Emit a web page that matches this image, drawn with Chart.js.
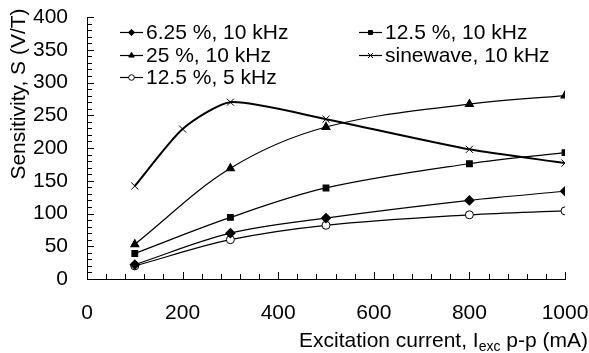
<!DOCTYPE html>
<html>
<head>
<meta charset="utf-8">
<script src="https://cdn.jsdelivr.net/npm/chart.js@4/dist/chart.umd.min.js"></script>
<style>
html,body{margin:0;padding:0;background:#fff;}
#wrap{width:589px;height:353px;}
</style>
</head>
<body>
<div id="wrap"><canvas id="c" width="589" height="353"></canvas></div>
<script>
const currents = [100, 300, 500, 800, 1000];
const sineCurrents = [100, 200, 300, 500, 800, 1000];
const s625_10k = [22, 70, 93, 120, 134];
const s125_10k = [39, 94, 139, 176, 193];
const s25_10k = [53, 169, 232, 267, 280];
const sine_10k = [142, 229, 270, 244, 198, 177];
const s125_5k = [20, 60, 82, 98, 104];
const seriesLabels = ['6.25 %, 10 kHz', '12.5 %, 10 kHz', '25 %, 10 kHz', 'sinewave, 10 kHz', '12.5 %, 5 kHz'];
const xTicks = [0, 200, 400, 600, 800, 1000];
const yTicks = [0, 50, 100, 150, 200, 250, 300, 350, 400];
const xTitleParts = ['Excitation current, I', 'exc', ' p-p (mA)'];
const yTitle = 'Sensitivity, S (V/T)';

const FONT = '"Liberation Sans", Arial, sans-serif';
const FS = 21;

function pts(xs, ys){ return xs.map((x,i)=>({x:x, y:ys[i]})); }

const datasets = [
  {label: seriesLabels[0], data: pts(currents, s625_10k), pointStyle:'rectRot', pointRadius:4.5, backgroundColor:'#000', borderColor:'#000', borderWidth:1.2, tension:0.35},
  {label: seriesLabels[1], data: pts(currents, s125_10k), pointStyle:'rect', pointRadius:4, backgroundColor:'#000', borderColor:'#000', borderWidth:1.2, tension:0.35},
  {label: seriesLabels[2], data: pts(currents, s25_10k), pointStyle:'triangle', pointRadius:4.5, backgroundColor:'#000', borderColor:'#000', borderWidth:1.2, tension:0.35},
  {label: seriesLabels[3], data: pts(sineCurrents, sine_10k), pointStyle:'crossRot', pointRadius:5, backgroundColor:'#000', borderColor:'#000', borderWidth:2, pointBorderWidth:1, tension:0.22},
  {label: seriesLabels[4], data: pts(currents, s125_5k), pointStyle:'circle', pointRadius:4, backgroundColor:'#fff', borderColor:'#000', borderWidth:1.2, pointBorderWidth:1, tension:0.35}
];

const decor = {
  id:'decor',
  afterDraw(chart){
    const ctx = chart.ctx;
    const xs = chart.scales.x, ys = chart.scales.y;
    const area = chart.chartArea;
    ctx.save();
    ctx.strokeStyle = '#000';
    ctx.lineWidth = 1;
    for (let v = 0; v <= 1000; v += 40){
      const px = Math.round(xs.getPixelForValue(v)) + 0.5;
      const len = (v % 200 === 0) ? 7 : 5;
      ctx.beginPath(); ctx.moveTo(px, area.bottom); ctx.lineTo(px, area.bottom - len); ctx.stroke();
    }
    for (let v = 0; v <= 400; v += 10){
      const py = Math.round(ys.getPixelForValue(v)) + 0.5;
      const len = (v % 50 === 0) ? 7 : 5;
      ctx.beginPath(); ctx.moveTo(area.left, py); ctx.lineTo(area.left + len, py); ctx.stroke();
    }
    // y title
    ctx.fillStyle = '#000';
    ctx.font = FS + 'px ' + FONT;
    ctx.save();
    ctx.translate(19, 94);
    ctx.rotate(-Math.PI/2);
    ctx.textAlign = 'center'; ctx.textBaseline = 'middle';
    ctx.fillText(yTitle, 0, 0);
    ctx.restore();
    // x title with subscript
    ctx.textBaseline = 'alphabetic';
    ctx.textAlign = 'left';
    const subFont = '14px ' + FONT;
    ctx.font = FS + 'px ' + FONT;
    const w1 = ctx.measureText(xTitleParts[0]).width;
    const w3 = ctx.measureText(xTitleParts[2]).width;
    ctx.font = subFont;
    const w2 = ctx.measureText(xTitleParts[1]).width;
    const total = w1 + w2 + w3;
    let x0 = 588 - total;
    const base = 347;
    ctx.font = FS + 'px ' + FONT;
    ctx.fillText(xTitleParts[0], x0, base);
    ctx.font = subFont;
    ctx.fillText(xTitleParts[1], x0 + w1, base + 4);
    ctx.font = FS + 'px ' + FONT;
    ctx.fillText(xTitleParts[2], x0 + w1 + w2, base);
    // legend
    const cols = [120, 359];
    const rows = [32, 55, 77];
    const order = [[0,0,0],[1,1,0],[2,0,1],[3,1,1],[4,0,2]];
    order.forEach(([di, c, r]) => {
      const ds = chart.data.datasets[di];
      const lx = cols[c], ly = rows[r];
      ctx.strokeStyle = '#000';
      ctx.lineWidth = 1.2;
      ctx.beginPath(); ctx.moveTo(lx, ly + 0.5); ctx.lineTo(lx + 23, ly + 0.5); ctx.stroke();
      ctx.fillStyle = ds.backgroundColor;
      ctx.lineWidth = 1;
      Chart.helpers.drawPoint(ctx, {pointStyle: ds.pointStyle, radius: ds.pointRadius * 0.7, borderWidth: 1, rotation: 0}, lx + 11.5, ly + 0.5);
      ctx.fillStyle = '#000';
      ctx.font = FS + 'px ' + FONT;
      ctx.textBaseline = 'middle';
      ctx.fillText(ds.label, lx + 26, ly + 1);
    });
    ctx.restore();
  }
};

function zeroPad(s){ s.paddingLeft = 0; s.paddingRight = 0; s.paddingTop = 0; s.paddingBottom = 0; }

new Chart(document.getElementById('c'), {
  type: 'line',
  data: { datasets },
  options: {
    responsive: false,
    animation: false,
    devicePixelRatio: 1,
    layout: { padding: { top: 17, right: 24, left: 0, bottom: 0 } },
    plugins: { legend: { display: false }, tooltip: { enabled: false } },
    elements: { line: { fill: false } },
    scales: {
      x: {
        type: 'linear', min: 0, max: 1000,
        afterBuildTicks(s){ s.ticks = xTicks.map(v => ({value: v})); },
        afterFit(s){ s.height = 74; zeroPad(s); },
        grid: { display: true, drawOnChartArea: false, drawTicks: false },
        border: { display: true, color: '#000', width: 1 },
        ticks: { color: '#000', font: { family: FONT, size: FS }, padding: 22, maxRotation: 0, callback: v => String(v) }
      },
      y: {
        type: 'linear', min: 0, max: 400,
        afterBuildTicks(s){ s.ticks = yTicks.map(v => ({value: v})); },
        afterFit(s){ s.width = 87; zeroPad(s); },
        grid: { display: true, drawOnChartArea: false, drawTicks: false },
        border: { display: true, color: '#000', width: 1 },
        ticks: { color: '#000', font: { family: FONT, size: FS }, padding: 19, callback: v => String(v) }
      }
    }
  },
  plugins: [decor]
});
</script>
</body>
</html>
